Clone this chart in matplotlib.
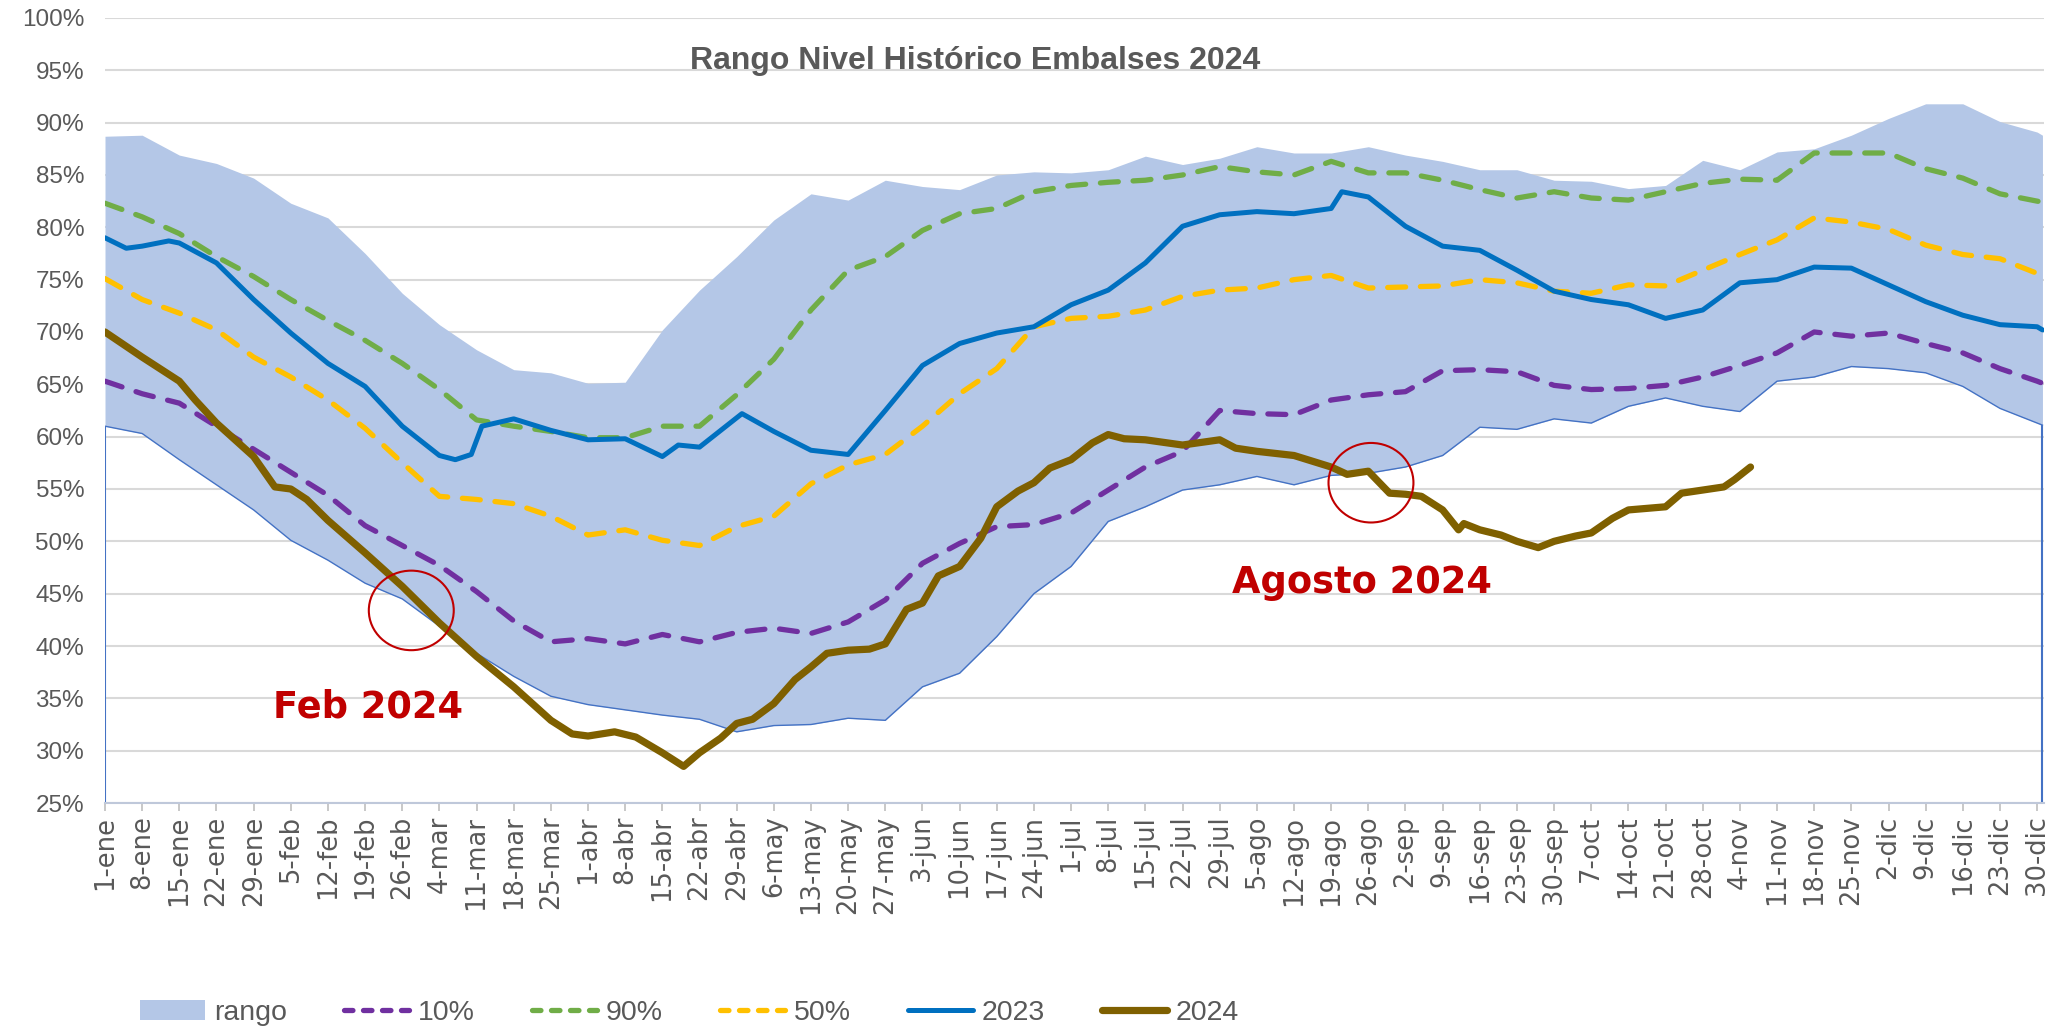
import matplotlib
matplotlib.use("Agg")
import matplotlib.pyplot as plt
from matplotlib.patches import Ellipse, Patch
from matplotlib.lines import Line2D

# weekly sample days (day of year, 0 = 1-ene), last point = right edge
days = list(range(0, 365, 7)) + [365]

rango_max = [88.7, 88.8, 86.9, 86.1, 84.7, 82.3, 80.9, 77.5, 73.7, 70.7,
             68.3, 66.4, 66.1, 65.1, 65.2, 70.2, 74.0, 77.2, 80.7, 83.2,
             82.6, 84.5, 83.9, 83.6, 85.0, 85.3, 85.2, 85.5, 86.8, 86.0,
             86.6, 87.7, 87.1, 87.1, 87.7, 86.9, 86.3, 85.5, 85.5, 84.5,
             84.4, 83.7, 84.0, 86.4, 85.5, 87.2, 87.5, 88.8, 90.4, 91.8,
             91.8, 90.1, 89.1, 88.8]
rango_min = [61.0, 60.3, 57.8, 55.4, 53.0, 50.1, 48.2, 46.0, 44.5, 41.9,
             39.3, 37.1, 35.2, 34.4, 33.9, 33.4, 33.0, 31.8, 32.4, 32.5,
             33.1, 32.9, 36.1, 37.4, 40.9, 45.0, 47.6, 51.9, 53.3, 54.9,
             55.4, 56.2, 55.4, 56.3, 56.5, 57.1, 58.2, 60.9, 60.7, 61.7,
             61.3, 62.9, 63.7, 62.9, 62.4, 65.3, 65.7, 66.7, 66.5, 66.1,
             64.8, 62.7, 61.3, 61.1]
p10 = [65.3, 64.1, 63.2, 61.0, 58.8, 56.6, 54.4, 51.5, 49.6, 47.7,
       45.2, 42.4, 40.4, 40.7, 40.2, 41.1, 40.4, 41.3, 41.7, 41.2,
       42.3, 44.4, 47.9, 49.8, 51.4, 51.6, 52.7, 54.9, 57.1, 58.6,
       62.5, 62.2, 62.1, 63.5, 64.0, 64.3, 66.3, 66.4, 66.2, 64.9,
       64.5, 64.6, 64.9, 65.7, 66.8, 68.0, 70.0, 69.6, 69.9, 68.9,
       68.0, 66.5, 65.3, 65.1]
p90 = [82.3, 81.0, 79.4, 77.2, 75.3, 73.1, 71.1, 69.2, 67.0, 64.5,
       61.6, 61.0, 60.5, 59.9, 59.9, 61.0, 61.0, 64.0, 67.4, 72.1,
       75.9, 77.2, 79.7, 81.3, 81.8, 83.4, 84.0, 84.3, 84.5, 85.0,
       85.8, 85.3, 85.0, 86.3, 85.2, 85.2, 84.5, 83.6, 82.8, 83.4,
       82.8, 82.6, 83.4, 84.2, 84.6, 84.5, 87.1, 87.1, 87.1, 85.6,
       84.7, 83.2, 82.5, 82.4]
p50 = [75.1, 73.1, 71.8, 70.2, 67.6, 65.7, 63.5, 60.8, 57.5, 54.3,
       54.0, 53.6, 52.4, 50.6, 51.1, 50.1, 49.6, 51.4, 52.4, 55.5,
       57.3, 58.3, 61.0, 64.1, 66.5, 70.5, 71.3, 71.5, 72.1, 73.4,
       74.0, 74.2, 75.0, 75.4, 74.2, 74.3, 74.4, 75.0, 74.7, 73.9,
       73.7, 74.5, 74.4, 75.9, 77.4, 78.8, 80.9, 80.5, 79.8, 78.3,
       77.4, 77.0, 75.6, 75.3]

days_2023 = [0, 4, 7, 12, 14, 21, 28, 35, 42, 49, 56, 63, 66, 69, 71, 77, 84, 91, 98, 105,
             108, 112, 117, 120, 126, 133, 140, 147, 154, 161, 168, 175, 182, 189, 196,
             203, 210, 217, 224, 231, 233, 238, 245, 252, 259, 266, 273, 280, 287, 294,
             301, 308, 315, 322, 329, 336, 343, 350, 357, 364, 365]
y2023 = [79.0, 78.0, 78.2, 78.7, 78.5, 76.6, 73.1, 69.9, 67.0, 64.8, 61.0, 58.2, 57.8, 58.3,
         61.0, 61.7, 60.6, 59.7, 59.8, 58.1, 59.2, 59.0, 61.0, 62.2, 60.5, 58.7, 58.3, 62.5,
         66.8, 68.9, 69.9, 70.5, 72.6, 74.0, 76.6, 80.1, 81.2, 81.5, 81.3, 81.8, 83.4, 82.9,
         80.1, 78.2, 77.8, 75.9, 73.9, 73.1, 72.6, 71.3, 72.1, 74.7, 75.0, 76.2, 76.1, 74.5,
         72.9, 71.6, 70.7, 70.5, 70.2]

days_2024 = [0, 7, 14, 17, 21, 28, 32, 35, 38, 42, 49, 56, 63, 70, 77, 84, 88, 91, 96, 100,
             105, 109, 112, 116, 119, 122, 126, 130, 133, 136, 140, 144, 147, 151, 154, 157,
             161, 165, 168, 172, 175, 178, 182, 186, 189, 192, 196, 203, 210, 213, 217, 224,
             231, 234, 238, 242, 245, 248, 252, 255, 256, 259, 263, 266, 270, 273, 277, 280,
             284, 287, 294, 297, 301, 305, 307, 310]
y2024 = [70.0, 67.6, 65.3, 63.5, 61.3, 58.1, 55.2, 55.0, 54.0, 52.0, 48.9, 45.7, 42.2, 39.0,
         36.1, 32.9, 31.6, 31.4, 31.8, 31.3, 29.8, 28.5, 29.8, 31.2, 32.6, 33.0, 34.5, 36.8,
         38.0, 39.3, 39.6, 39.7, 40.2, 43.5, 44.1, 46.7, 47.6, 50.3, 53.3, 54.8, 55.6, 57.0,
         57.8, 59.4, 60.2, 59.8, 59.7, 59.2, 59.7, 58.9, 58.6, 58.2, 57.1, 56.4, 56.7, 54.6,
         54.5, 54.3, 53.0, 51.1, 51.7, 51.1, 50.6, 50.0, 49.4, 50.0, 50.5, 50.8, 52.2, 53.0,
         53.3, 54.6, 54.9, 55.2, 55.9, 57.1]

tick_days = list(range(0, 365, 7))
tick_labels = ["1-ene", "8-ene", "15-ene", "22-ene", "29-ene", "5-feb", "12-feb", "19-feb",
               "26-feb", "4-mar", "11-mar", "18-mar", "25-mar", "1-abr", "8-abr", "15-abr",
               "22-abr", "29-abr", "6-may", "13-may", "20-may", "27-may", "3-jun", "10-jun",
               "17-jun", "24-jun", "1-jul", "8-jul", "15-jul", "22-jul", "29-jul", "5-ago",
               "12-ago", "19-ago", "26-ago", "2-sep", "9-sep", "16-sep", "23-sep", "30-sep",
               "7-oct", "14-oct", "21-oct", "28-oct", "4-nov", "11-nov", "18-nov", "25-nov",
               "2-dic", "9-dic", "16-dic", "23-dic", "30-dic"]
y_ticks = [25, 30, 35, 40, 45, 50, 55, 60, 65, 70, 75, 80, 85, 90, 95, 100]

GRAY = "#595959"
C_RANGO = "#B4C7E7"
C_10 = "#7030A0"
C_90 = "#70AD47"
C_50 = "#FFC000"
C_2023 = "#0070C0"
C_2024 = "#7F6000"
RED = "#C00000"

plt.rcParams["font.family"] = ["Liberation Sans", "DejaVu Sans"]

fig = plt.figure(figsize=(20.65, 10.27), dpi=100)
ax = fig.add_axes([0.05085, 0.2181, 0.9390, 0.7644])

ax.fill_between(days, rango_min, rango_max, color=C_RANGO, lw=0, zorder=1)
ax.plot(days, rango_min, color="#4472C4", lw=1, zorder=2)
ax.vlines([days[0], days[-1]], 25, [rango_min[0], rango_min[-1]], color="#4472C4", lw=1.5, zorder=2)

dash = (0, (3.4, 2.8))
kw = dict(lw=3.8, linestyle=dash, dash_capstyle="round", zorder=3)
ax.plot(days, p10, color=C_10, **kw)
ax.plot(days, p90, color=C_90, **kw)
ax.plot(days, p50, color=C_50, **kw)
ax.plot(days_2023, y2023, color=C_2023, lw=3.6, solid_capstyle="round", zorder=4)
ax.plot(days_2024, y2024, color=C_2024, lw=5.2, solid_capstyle="round", zorder=5)

# highlight circles and notes
ax.add_patch(Ellipse((57.7, 43.4), 16, 7.6, fill=False, edgecolor=RED, lw=1.5, zorder=6))
ax.add_patch(Ellipse((238.5, 55.6), 16, 7.6, fill=False, edgecolor=RED, lw=1.5, zorder=6))
ax.text(49.6, 34.2, "Feb 2024", color=RED, fontsize=26.5, fontweight="bold",
        family="DejaVu Sans", ha="center", va="center", zorder=7)
ax.text(236.8, 46.1, "Agosto 2024", color=RED, fontsize=26.5, fontweight="bold",
        family="DejaVu Sans", ha="center", va="center", zorder=7)

ax.text(0.4487, 0.945, "Rango Nivel Histórico Embalses 2024", transform=ax.transAxes,
        ha="center", va="center", fontsize=23, fontweight="bold", color=GRAY)

ax.set_xlim(0, 365.3)
ax.set_ylim(25, 100)
ax.set_yticks(y_ticks)
ax.set_yticklabels([f"{v}%" for v in y_ticks])
ax.set_xticks(tick_days)
ax.set_xticklabels(tick_labels, rotation=90, family="DejaVu Sans", fontsize=18.5, color=GRAY)
ax.tick_params(axis="y", length=0, pad=15, labelsize=17.5, labelcolor=GRAY)
ax.tick_params(axis="x", length=6, width=1.2, color="#BFBFBF", pad=3)
ax.yaxis.grid(True, color="#D9D9D9", lw=1.5, zorder=0)
ax.set_axisbelow(True)
for s in ["top", "right", "left"]:
    ax.spines[s].set_visible(False)
ax.spines["bottom"].set_color("#BFC8DA")
ax.spines["bottom"].set_linewidth(1.5)

leg_dash = (0, (1.6, 2.0))
handles = [
    Patch(facecolor=C_RANGO, edgecolor="none"),
    Line2D([], [], color=C_10, lw=3.8, linestyle=leg_dash, dash_capstyle="round"),
    Line2D([], [], color=C_90, lw=3.8, linestyle=leg_dash, dash_capstyle="round"),
    Line2D([], [], color=C_50, lw=3.8, linestyle=leg_dash, dash_capstyle="round"),
    Line2D([], [], color=C_2023, lw=3.6, solid_capstyle="round"),
    Line2D([], [], color=C_2024, lw=5.2, solid_capstyle="round"),
]
labels = ["rango", "10%", "90%", "50%", "2023", "2024"]
fig.legend(handles, labels, loc="center left", bbox_to_anchor=(140 / 2065, 14 / 1027),
           ncol=6, frameon=False, fontsize=20.5, labelcolor=GRAY, handlelength=2.3,
           handletextpad=0.3, columnspacing=2.0, borderpad=0, borderaxespad=0)

fig.savefig("out.png", dpi=100)
